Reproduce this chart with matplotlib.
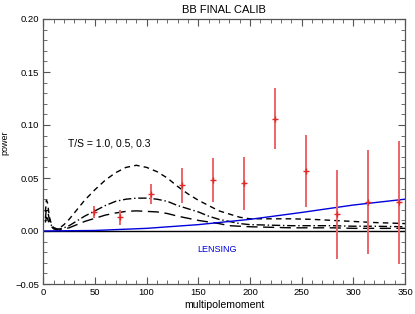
import matplotlib
matplotlib.use("Agg")
import matplotlib.pyplot as plt
from matplotlib.ticker import MultipleLocator

# ---- data ----
ell = [2, 3, 4, 5, 6, 8, 10, 13, 16, 20, 25, 30, 40, 50, 60, 70, 80, 90, 100, 110,
       120, 130, 140, 150, 160, 170, 180, 190, 200, 220, 240, 260, 280, 300, 320, 350]
ts_10 = [0.018, 0.029, 0.027, 0.020, 0.013, 0.006, 0.003, 0.002, 0.003, 0.006, 0.011,
         0.017, 0.029, 0.039, 0.048, 0.055, 0.060, 0.062, 0.060, 0.056, 0.050, 0.042,
         0.035, 0.029, 0.024, 0.019, 0.016, 0.013, 0.0115, 0.0115, 0.0115, 0.011, 0.010,
         0.009, 0.008, 0.007]
ts_05 = [0.012, 0.021, 0.020, 0.015, 0.010, 0.005, 0.003, 0.002, 0.002, 0.003, 0.005,
         0.008, 0.014, 0.019, 0.024, 0.028, 0.030, 0.031, 0.031, 0.030, 0.028, 0.024,
         0.021, 0.018, 0.014, 0.011, 0.009, 0.007, 0.006, 0.0055, 0.005, 0.005, 0.005,
         0.0045, 0.0045, 0.004]
ts_03 = [0.008, 0.013, 0.012, 0.009, 0.006, 0.004, 0.002, 0.001, 0.001, 0.002, 0.003,
         0.005, 0.009, 0.012, 0.015, 0.017, 0.0185, 0.019, 0.0185, 0.018, 0.0165, 0.014,
         0.012, 0.010, 0.0085, 0.007, 0.005, 0.0045, 0.004, 0.0035, 0.003, 0.003, 0.003,
         0.0025, 0.0025, 0.0025]
lens_ell = [0, 50, 100, 150, 200, 250, 300, 350]
lensing = [0.0, 0.0005, 0.0025, 0.006, 0.011, 0.0175, 0.0245, 0.030]

data_ell = [49, 74, 104, 134, 164, 194, 224, 254, 284, 314, 344]
data_pow = [0.018, 0.013, 0.035, 0.043, 0.048, 0.045, 0.106, 0.057, 0.016, 0.027, 0.027]
data_err = [0.006, 0.007, 0.0095, 0.0165, 0.021, 0.025, 0.029, 0.034, 0.042, 0.049, 0.058]

plt.rcParams['font.family'] = ['Liberation Sans', 'DejaVu Sans']

fig = plt.figure(figsize=(4.15, 3.14), dpi=100)
ax = fig.add_axes([43.3 / 415, 1 - 284 / 314, (405 - 43.3) / 415, (284 - 19) / 314])

ax.plot([0, 350], [0, 0], color='black', lw=1.0)
ax.plot(ell, ts_10, color='black', lw=1.0, ls=(0, (4, 3)))
ax.plot(ell, ts_05, color='black', lw=1.0, ls=(0, (6, 2, 1, 2)))
ax.plot(ell, ts_03, color='black', lw=1.0, ls=(0, (8, 4)))
ax.plot(lens_ell, lensing, color='#0000dd', lw=1.0)

ax.errorbar(data_ell, data_pow, yerr=data_err, fmt='none', ecolor='#eb6468',
            elinewidth=1.4, capsize=0)
ax.plot(data_ell, data_pow, ls='none', marker='+', color='#e02828', ms=4.5, mew=1.0)

ax.text(24, 0.083, 'T/S = 1.0, 0.5, 0.3', fontsize=7.5, va='center', ha='left')
ax.text(168, -0.017, 'LENSING', fontsize=6.5, color='#0000dd', va='center', ha='center')

ax.set_xlim(0, 350)
ax.set_ylim(-0.05, 0.20)
ax.xaxis.set_major_locator(MultipleLocator(50))
ax.xaxis.set_minor_locator(MultipleLocator(10))
ax.yaxis.set_major_locator(MultipleLocator(0.05))
ax.yaxis.set_minor_locator(MultipleLocator(0.01))
ax.set_yticks([-0.05, 0.0, 0.05, 0.10, 0.15, 0.20])
ax.set_yticklabels(['\u22120.05', '0.00', '0.05', '0.10', '0.15', '0.20'])
ax.tick_params(which='both', direction='in', top=True, right=True, labelsize=6.8,
               color='#555555', pad=3)
ax.tick_params(which='major', length=5, width=0.8)
ax.tick_params(which='minor', length=2.8, width=0.6)
for s in ax.spines.values():
    s.set_color('#555555')
    s.set_linewidth(0.9)

ax.set_title('BB FINAL CALIB', fontsize=8, pad=4)
ax.set_xlabel('multipolemoment', fontsize=7.6, labelpad=2)
fig.text(0.012, 1 - 143 / 314, 'power', rotation=90, fontsize=6.5, va='center', ha='center')

fig.savefig('out.png', dpi=100)
